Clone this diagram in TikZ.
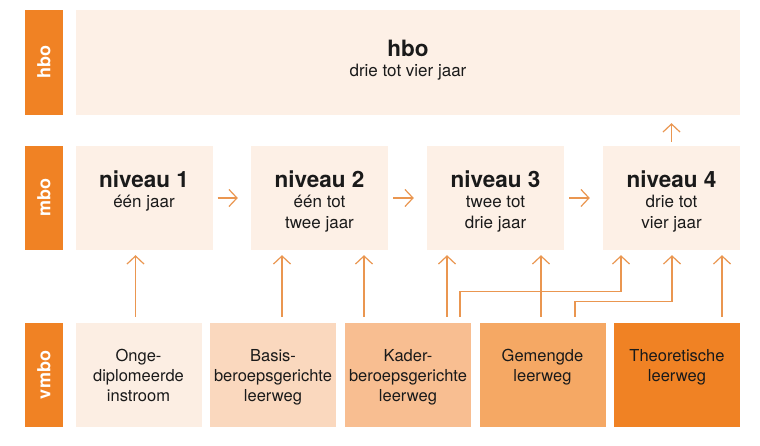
\documentclass[tikz,border=0pt]{standalone}
\usepackage{fontspec}
\setmainfont{TeX Gyre Heros}
\usetikzlibrary{arrows.meta}
\definecolor{orbar}{RGB}{240,130,36}
\definecolor{pale}{RGB}{253,240,230}
\definecolor{vA}{RGB}{252,238,227}
\definecolor{vB}{RGB}{250,216,190}
\definecolor{vC}{RGB}{248,190,145}
\definecolor{vD}{RGB}{245,168,100}
\definecolor{vE}{RGB}{240,130,36}
\definecolor{arrc}{RGB}{234,150,80}
\definecolor{txt}{RGB}{26,26,26}
\begin{document}
\begin{tikzpicture}[x=1pt,y=-1pt,
  bar/.style={fill=orbar,draw=none,text=white,inner sep=0pt,minimum width=38pt,
    font=\bfseries\fontsize{18}{18}\selectfont},
  mbox/.style={fill=pale,draw=none,inner sep=0pt,minimum width=137pt,minimum height=104pt},
  vbox/.style={draw=none,inner sep=0pt,minimum width=126pt,minimum height=104pt},
  ttl/.style={anchor=base,inner sep=0pt,text=txt,font=\bfseries\fontsize{22.5}{22}\selectfont},
  sub/.style={anchor=base,inner sep=0pt,text=txt,align=center,font=\fontsize{17}{21}\selectfont},
  vtx/.style={anchor=base,inner sep=0pt,text=txt,align=center,font=\fontsize{16.5}{20}\selectfont},
  arr/.style={draw=arrc,line width=1.2pt,-{Straight Barb[length=8pt,width=17pt,line width=1.2pt]}},
  ln/.style={draw=arrc,line width=1.2pt}
]
\useasboundingbox (0,0) rectangle (760,446);
\fill[white] (0,0) rectangle (760,446);

% label bars
\node[bar,minimum height=105pt] (lhbo) at (44,62.5) {\rotatebox{90}{hbo}};
\node[bar,minimum height=104pt] (lmbo) at (44,198) {\rotatebox{90}{mbo}};
\node[bar,minimum height=104pt] (lvmbo) at (44,375) {\rotatebox{90}{vmbo}};

% hbo
\node[fill=pale,draw=none,inner sep=0pt,minimum width=664pt,minimum height=105pt] (hbo) at (408,62.5) {};
\node[ttl] (hbot) at (408,57) {hbo};
\node[sub] (hbos) at (408,77) {drie tot vier jaar};

% mbo
\node[mbox] (n1) at (144,198) {};
\node[mbox] (n2) at (319.5,198) {};
\node[mbox] (n3) at (495.5,198) {};
\node[mbox] (n4) at (671.5,198) {};
\node[ttl] (n1t) at (144,188) {niveau 1};
\node[ttl] (n2t) at (319.5,188) {niveau 2};
\node[ttl] (n3t) at (495.5,188) {niveau 3};
\node[ttl] (n4t) at (671.5,188) {niveau 4};
\node[sub] (n1s) at (144,208) {één jaar};
\node[sub] (n2s) at (319.5,229) {één tot\\twee jaar};
\node[sub] (n3s) at (495.5,229) {twee tot\\drie jaar};
\node[sub] (n4s) at (671.5,229) {drie tot\\vier jaar};

% vmbo
\node[vbox,fill=vA] (v1) at (138.5,375) {};
\node[vbox,fill=vB] (v2) at (273,375) {};
\node[vbox,fill=vC] (v3) at (408,375) {};
\node[vbox,fill=vD] (v4) at (542.5,375) {};
\node[vbox,fill=vE] (v5) at (677,375) {};
\node[vtx] (v1t) at (138.5,401) {Onge-\\diplomeerde\\instroom};
\node[vtx] (v2t) at (273,401) {Basis-\\beroepsgerichte\\leerweg};
\node[vtx] (v3t) at (408,401) {Kader-\\beroepsgerichte\\leerweg};
\node[vtx] (v4t) at (542.5,381) {Gemengde\\leerweg};
\node[vtx] (v5t) at (677,381) {Theoretische\\leerweg};

% horizontal arrows
\draw[arr,shorten <=5pt,shorten >=13pt] (n1.east) -- (n2.west);
\draw[arr,shorten <=5pt,shorten >=13pt] (n2.east) -- (n3.west);
\draw[arr,shorten <=5pt,shorten >=13pt] (n3.east) -- (n4.west);

% niveau 4 -> hbo
\draw[arr,shorten <=4pt,shorten >=8pt] (n4.north) -- (hbo.south -| n4.north);

% vertical arrows
\draw[arr,shorten <=6pt,shorten >=5pt] ([xshift=-3]v1.north) -- ([xshift=-8.5]n1.south);
\draw[arr,shorten <=6pt,shorten >=5pt] ([xshift=9]v2.north) -- ([xshift=-37.5]n2.south);
\draw[arr,shorten <=6pt,shorten >=5pt] ([xshift=-44]v3.north) -- ([xshift=44.5]n2.south);
\draw[arr,shorten <=6pt,shorten >=5pt] ([xshift=39]v3.north) -- ([xshift=-48.5]n3.south);
\draw[arr,shorten <=6pt,shorten >=5pt] ([xshift=52]v3.north) -- ([xshift=52,yshift=31]v3.north) -| ([xshift=-50.5]n4.south);
\draw[arr,shorten <=6pt,shorten >=5pt] ([xshift=-1.5]v4.north) -- ([xshift=45.5]n3.south);
\draw[arr,shorten <=6pt,shorten >=5pt] ([xshift=32.5]v4.north) -- ([xshift=32.5,yshift=21]v4.north) -| ([xshift=0.5]n4.south);
\draw[arr,shorten <=6pt,shorten >=5pt] ([xshift=45]v5.north) -- ([xshift=50.5]n4.south);
\end{tikzpicture}
\end{document}
